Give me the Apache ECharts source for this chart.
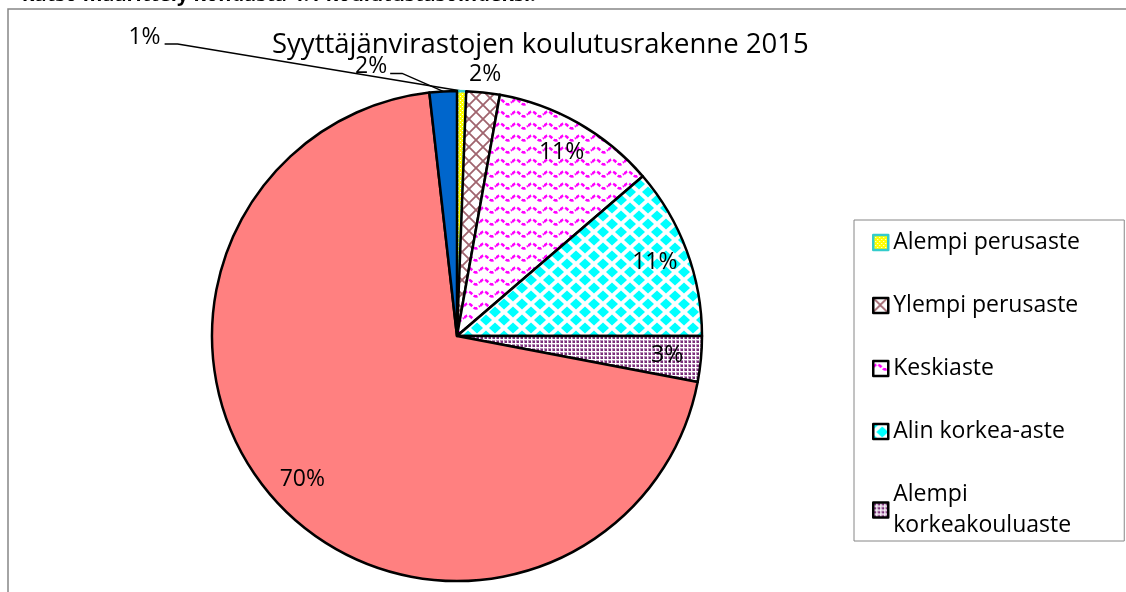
<!DOCTYPE html>
<html>
<head>
<meta charset="utf-8">
<script src="https://cdn.jsdelivr.net/npm/echarts@6/dist/echarts.min.js"></script>
<style>
  html, body { margin: 0; padding: 0; background: #fff; }
  #main { width: 1126px; height: 592px; }
</style>
</head>
<body>
<div id="main"></div>
<script>
// koulutusasteet ja osuudet (%)
var levels = ['Alempi perusaste', 'Ylempi perusaste', 'Keskiaste', 'Alin korkea-aste',
  'Alempi korkeakouluaste', 'Ylempi korkeakouluaste', 'Tutkijakoulutus'];
var shares = [0.6, 2.2, 10.9, 11.3, 3.0, 70.2, 1.8];
// legenda näyttää vain viisi ensimmäistä (loput leikkautuvat pois)
var legendLevels = levels.slice(0, 5);
var titleText = 'Syyttäjänvirastojen koulutusrakenne 2015';
var topNote = 'katso määrittely kohdasta 4.1 koulutustasoindeksi.';

var FONT = '"Open Sans"';

// kuviotäytöt
function tile(w, h, draw) {
  var c = document.createElement('canvas');
  c.width = w;
  c.height = h;
  var ctx = c.getContext('2d');
  ctx.fillStyle = '#fff';
  ctx.fillRect(0, 0, w, h);
  draw(ctx);
  return { image: c, repeat: 'repeat' };
}

var fills = [
  // keltainen pisteruudukko
  tile(4, 4, function (ctx) {
    ctx.fillStyle = '#ffff00';
    ctx.fillRect(0, 0, 4, 4);
    ctx.fillStyle = '#fff';
    ctx.fillRect(0, 0, 1, 1);
    ctx.fillRect(2, 2, 1, 1);
  }),
  // ruskea ristikko
  tile(14, 14, function (ctx) {
    ctx.strokeStyle = '#a0646e';
    ctx.lineWidth = 1.8;
    ctx.beginPath();
    ctx.moveTo(-1, -1); ctx.lineTo(15, 15);
    ctx.moveTo(15, -1); ctx.lineTo(-1, 15);
    ctx.stroke();
  }),
  // magenta aaltoviivat
  tile(16, 12, function (ctx) {
    ctx.strokeStyle = '#ff00ff';
    ctx.lineWidth = 2.5;
    ctx.setLineDash([4, 2]);
    ctx.beginPath();
    for (var x = 0; x <= 16; x++) {
      var y = 6 - 2.5 * Math.sin(x / 16 * Math.PI * 2);
      if (x === 0) ctx.moveTo(x, y); else ctx.lineTo(x, y);
    }
    ctx.stroke();
  }),
  // syaanit vinoneliöt
  tile(18, 16, function (ctx) {
    ctx.fillStyle = '#00ffff';
    [[0, 0], [18, 0], [0, 16], [18, 16], [9, 8]].forEach(function (p) {
      ctx.beginPath();
      ctx.moveTo(p[0] - 6, p[1]);
      ctx.lineTo(p[0], p[1] - 5.5);
      ctx.lineTo(p[0] + 6, p[1]);
      ctx.lineTo(p[0], p[1] + 5.5);
      ctx.closePath();
      ctx.fill();
    });
  }),
  // violetit pisteet
  tile(4, 4, function (ctx) {
    ctx.fillStyle = '#b891b8';
    ctx.fillRect(0, 0, 3, 3);
    ctx.fillStyle = '#7a2c7a';
    ctx.fillRect(1, 1, 2, 2);
  }),
  '#ff8080',
  '#0066cc'
];
var borders = ['#33cccc', '#000', '#000', '#000', '#000', '#000', '#000'];

var outside = [0, 1, 6];
// ulkopuolisten selitteiden viivat suhteessa viipaleen reunapisteeseen
var leader = {
  0: { line: [[-284, -47], [-297, -47]], text: [-301, -54], align: 'right' },
  1: { line: null, text: [2, -18], align: 'center' },
  6: { line: [[-41, -18], [-53, -18]], text: [-56, -25], align: 'right' }
};

var labelStyle = { color: '#000', fontFamily: FONT, fontSize: 23 };

var pieData = levels.map(function (name, i) {
  var out = outside.indexOf(i) >= 0;
  return {
    name: name,
    value: shares[i],
    itemStyle: { color: fills[i], borderColor: borders[i] },
    label: { show: out },
    labelLine: { show: out, lineStyle: { width: i === 1 ? 0 : 1.5 } }
  };
});

var innerData = levels.map(function (name, i) {
  return {
    name: name,
    value: shares[i],
    label: { show: outside.indexOf(i) < 0 }
  };
});

var chart = echarts.init(document.getElementById('main'));

chart.setOption({
  animation: false,
  title: {
    text: titleText,
    left: 272,
    top: 29,
    padding: 0,
    textStyle: { fontFamily: FONT, fontSize: 27.5, fontWeight: 'normal', color: '#000', lineHeight: 32 }
  },
  legend: {
    data: legendLevels,
    orient: 'vertical',
    left: 854,
    top: 220,
    padding: [7, 31, 0, 18],
    itemGap: 32,
    itemWidth: 15,
    itemHeight: 15,
    icon: 'rect',
    borderColor: '#868686',
    borderWidth: 1,
    itemStyle: { borderWidth: 2.5 },
    textStyle: {
      fontFamily: FONT, fontSize: 23, color: '#000', lineHeight: 31,
      width: 200, overflow: 'break'
    }
  },
  graphic: [
    {
      type: 'rect',
      shape: { x: 8, y: 9, width: 1400, height: 900 },
      style: { fill: 'none', stroke: '#868686', lineWidth: 1.5 },
      silent: true
    },
    {
      type: 'text',
      x: 22,
      y: 5,
      style: {
        text: topNote,
        font: 'bold 20px ' + FONT,
        fill: '#000',
        verticalAlign: 'bottom'
      },
      silent: true
    }
  ],
  series: [
    {
      type: 'pie',
      center: [457, 336],
      radius: 245,
      startAngle: 90,
      clockwise: true,
      avoidLabelOverlap: false,
      silent: true,
      itemStyle: { borderWidth: 2.5 },
      label: Object.assign({
        position: 'outside',
        formatter: function (p) { return Math.round(p.percent) + '%'; }
      }, labelStyle),
      labelLine: { length: 12, length2: 10, lineStyle: { color: '#000' } },
      labelLayout: function (p) {
        var l = leader[p.dataIndex];
        if (!l || !p.labelLinePoints) return {};
        var e = p.labelLinePoints[0];
        var pts = [e];
        if (l.line) {
          l.line.forEach(function (d) { pts.push([e[0] + d[0], e[1] + d[1]]); });
        } else {
          pts.push(e, e);
        }
        return {
          x: e[0] + l.text[0],
          y: e[1] + l.text[1],
          align: l.align,
          verticalAlign: 'middle',
          labelLinePoints: pts
        };
      },
      data: pieData
    },
    {
      // läpinäkyvä kehä sisäselitteiden sijoittamiseen
      type: 'pie',
      center: [457, 336],
      radius: [171, 245],
      startAngle: 90,
      clockwise: true,
      silent: true,
      itemStyle: { color: 'rgba(0,0,0,0)', borderWidth: 0 },
      label: Object.assign({
        position: 'inside',
        formatter: function (p) { return Math.round(p.percent) + '%'; }
      }, labelStyle),
      labelLine: { show: false },
      data: innerData
    }
  ]
});
</script>
</body>
</html>
